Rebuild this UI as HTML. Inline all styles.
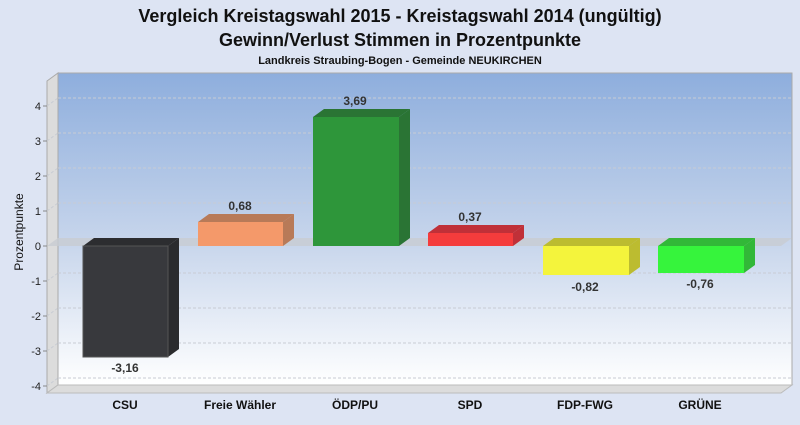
<!DOCTYPE html>
<html><head><meta charset="utf-8"><style>
body{margin:0;width:800px;height:420px;background:#dde4f3;overflow:hidden;font-family:"Liberation Sans",sans-serif}
</style></head><body>
<svg width="800" height="420" xmlns="http://www.w3.org/2000/svg" font-family="Liberation Sans, sans-serif">
<defs>
<linearGradient id="bg" x1="0" y1="0" x2="0" y2="1">
<stop offset="0" stop-color="#8eaedd"/><stop offset="0.55" stop-color="#c8d6ec"/><stop offset="1" stop-color="#ffffff"/>
</linearGradient>
</defs>
<text x="400" y="22" text-anchor="middle" font-size="18" font-weight="bold" fill="#111">Vergleich Kreistagswahl 2015 - Kreistagswahl 2014 (ungültig)</text>
<text x="400" y="46" text-anchor="middle" font-size="18" font-weight="bold" fill="#111">Gewinn/Verlust Stimmen in Prozentpunkte</text>
<text x="400" y="64" text-anchor="middle" font-size="11" font-weight="bold" fill="#111">Landkreis Straubing-Bogen - Gemeinde NEUKIRCHEN</text>
<!-- back plane -->
<rect x="58" y="73" width="734" height="312" fill="url(#bg)" stroke="#aaa" stroke-width="1"/>
<!-- left wall -->
<polygon points="47,81 58,73 58,385 47,393" fill="#dcdcdc" stroke="#aaa" stroke-width="1"/>
<!-- floor -->
<polygon points="47,393 58,385 792,385 781,393" fill="#dcdcdc" stroke="#bbb" stroke-width="1"/>
<!-- grid -->
<g stroke="#c8ccd4" stroke-dasharray="3,2" stroke-width="1">
<line x1="58" y1="98" x2="792" y2="98"/><line x1="58" y1="133" x2="792" y2="133"/><line x1="58" y1="168" x2="792" y2="168"/><line x1="58" y1="203" x2="792" y2="203"/>
<line x1="58" y1="273" x2="792" y2="273"/><line x1="58" y1="308" x2="792" y2="308"/><line x1="58" y1="343" x2="792" y2="343"/><line x1="58" y1="378" x2="792" y2="378"/>
<line x1="47" y1="106" x2="58" y2="98"/><line x1="47" y1="141" x2="58" y2="133"/><line x1="47" y1="176" x2="58" y2="168"/><line x1="47" y1="211" x2="58" y2="203"/>
<line x1="47" y1="281" x2="58" y2="273"/><line x1="47" y1="316" x2="58" y2="308"/><line x1="47" y1="351" x2="58" y2="343"/><line x1="47" y1="386" x2="58" y2="378"/>
</g>
<!-- zero plane -->
<polygon points="47,246 58,238 792,238 781,246" fill="#c8ccd2" opacity="0.8"/>
<!-- y ticks -->
<g stroke="#888"><line x1="43" y1="106" x2="47" y2="106"/><line x1="43" y1="141" x2="47" y2="141"/><line x1="43" y1="176" x2="47" y2="176"/><line x1="43" y1="211" x2="47" y2="211"/><line x1="43" y1="246" x2="47" y2="246"/><line x1="43" y1="281" x2="47" y2="281"/><line x1="43" y1="316" x2="47" y2="316"/><line x1="43" y1="351" x2="47" y2="351"/><line x1="43" y1="386" x2="47" y2="386"/></g>
<g font-size="11" fill="#222" text-anchor="end">
<text x="41" y="110">4</text><text x="41" y="145">3</text><text x="41" y="180">2</text><text x="41" y="215">1</text><text x="41" y="250">0</text><text x="41" y="285">-1</text><text x="41" y="320">-2</text><text x="41" y="355">-3</text><text x="41" y="390">-4</text>
</g>
<text transform="translate(23,232) rotate(-90)" text-anchor="middle" font-size="12" fill="#111">Prozentpunkte</text>
<!-- bars -->
<g stroke-width="1">
<!-- CSU -->
<polygon points="83,246 94,238 179,238 168,246" fill="#2c2d30"/>
<polygon points="168,246 179,238 179,349 168,357" fill="#2a2b2e"/>
<rect x="83" y="246" width="85" height="111" fill="#38393d" stroke="#555"/>
<!-- Freie -->
<polygon points="198,222 209,214 294,214 283,222" fill="#b87a58"/>
<polygon points="283,222 294,214 294,238 283,246" fill="#b87a58"/>
<rect x="198" y="222" width="85" height="24" fill="#f4996a"/>
<!-- ÖDP -->
<polygon points="313,117 324,109 410,109 399,117" fill="#2a7434"/>
<polygon points="399,117 410,109 410,238 399,246" fill="#2a7434"/>
<rect x="313" y="117" width="86" height="129" fill="#2e963a"/>
<!-- SPD -->
<polygon points="428,233 439,225 524,225 513,233" fill="#c03038"/>
<polygon points="513,233 524,225 524,238 513,246" fill="#c03038"/>
<rect x="428" y="233" width="85" height="13" fill="#f43c3c"/>
<!-- FDP -->
<polygon points="543,246 554,238 640,238 629,246" fill="#bcbc30"/>
<polygon points="629,246 640,238 640,267 629,275" fill="#bcbc30"/>
<rect x="543" y="246" width="86" height="29" fill="#f4f43c"/>
<!-- GRÜNE -->
<polygon points="658,246 669,238 755,238 744,246" fill="#32b838"/>
<polygon points="744,246 755,238 755,265 744,273" fill="#32b838"/>
<rect x="658" y="246" width="86" height="27" fill="#36f43c"/>
</g>
<g font-size="12" font-weight="bold" fill="#333" text-anchor="middle">
<text x="125" y="372">-3,16</text><text x="240" y="210">0,68</text><text x="355" y="105">3,69</text><text x="470" y="221">0,37</text><text x="585" y="291">-0,82</text><text x="700" y="288">-0,76</text>
</g>
<g font-size="12" font-weight="bold" fill="#111" text-anchor="middle">
<text x="125" y="409">CSU</text><text x="240" y="409">Freie Wähler</text><text x="355" y="409">ÖDP/PU</text><text x="470" y="409">SPD</text><text x="585" y="409">FDP-FWG</text><text x="700" y="409">GRÜNE</text>
</g>
</svg>
</body></html>
